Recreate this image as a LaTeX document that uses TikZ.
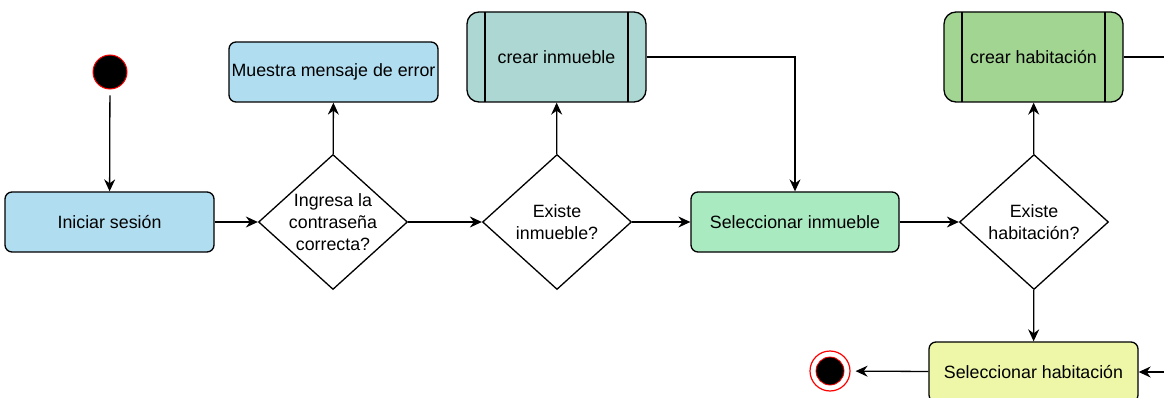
\documentclass[tikz,border=0pt]{standalone}
\usepackage{fontspec}
\setmainfont{Liberation Sans}
\usetikzlibrary{arrows.meta,shapes.geometric,positioning}
\tikzset{>={Stealth[length=12pt,width=11pt,inset=4pt]}}

\definecolor{azul}{RGB}{177,221,240}
\definecolor{turquesa}{RGB}{172,215,210}
\definecolor{menta}{RGB}{169,234,193}
\definecolor{verde}{RGB}{162,212,146}
\definecolor{amarillo}{RGB}{238,246,168}

\tikzset{
  actbox/.style={draw,rounded corners=7pt,line width=1.3pt,minimum width=209pt,minimum height=60pt,inner sep=0pt},
  procbox/.style={actbox,minimum width=179pt,minimum height=90pt,rounded corners=12pt,
    path picture={
      \draw[line width=1.3pt] ([xshift=18pt]path picture bounding box.north west) -- ([xshift=18pt]path picture bounding box.south west);
      \draw[line width=1.3pt] ([xshift=-18pt]path picture bounding box.north east) -- ([xshift=-18pt]path picture bounding box.south east);
    }},
  % the question goes in a centred label so it does not stretch the diamond
  decision/.style={draw,diamond,line width=1.3pt,minimum width=149pt,minimum height=135pt,inner sep=0pt,
    label={[align=center]center:#1}},
  flecha/.style={->,line width=1.3pt},
}

\begin{document}
\begin{tikzpicture}[x=1pt,y=-1pt,font=\fontsize{17.8}{22}\selectfont]
\clip (0,0) rectangle (1164,398);
\fill[white] (0,0) rectangle (1164,398);

% estados inicial y final
\node[circle,draw=red,fill=black,minimum size=34pt,inner sep=0pt,line width=1pt] (inicio) at (110,72) {};
\node[circle,draw=red,fill=white,minimum size=40pt,inner sep=0pt,line width=1.2pt] (fin) at (830,371) {};
\fill[black,draw=red,line width=0.8pt] (fin) circle [radius=14pt];

% actividades
\node[actbox,fill=azul] (iniciar) at (109.5,222) {Iniciar sesión};
\node[actbox,fill=azul] (error) at (333.5,72) {Muestra mensaje de error};
\node[decision={Ingresa la\\contraseña\\correcta?}] (clave) at (333,222) {};
\node[decision={Existe\\inmueble?}] (existeinm) at (557,222) {};
\node[procbox,fill=turquesa] (crearinm) at (556.5,57) {crear inmueble};
\node[actbox,minimum width=208pt,fill=menta] (selinm) at (795,222) {Seleccionar inmueble};
\node[decision={Existe\\habitación?}] (existehab) at (1034,222) {};
\node[procbox,fill=verde] (crearhab) at (1033.5,57) {crear habitación};
\node[actbox,fill=amarillo] (selhab) at (1033.5,372) {Seleccionar habitación};

\coordinate (salida) at (1180,57);
\coordinate (regreso) at (1180,372);

% transiciones
\draw[flecha,shorten <=6pt] (inicio) -- (iniciar);
\draw[flecha] (iniciar) -- (clave);
\draw[flecha] (clave) -- (error);
\draw[flecha] (clave) -- (existeinm);
\draw[flecha] (existeinm) -- (crearinm);
\draw[flecha] (existeinm) -- (selinm);
\draw[flecha] (crearinm.east) -| (selinm.north);
\draw[flecha] (selinm) -- (existehab);
\draw[flecha] (existehab) -- (crearhab);
\draw[flecha] (existehab) -- (selhab);
\draw[line width=1.3pt] (crearhab.east) -- (salida);
\draw[flecha] (regreso) -- (selhab.east);
\draw[flecha,shorten >=5pt] (selhab) -- (fin);
\end{tikzpicture}
\end{document}
